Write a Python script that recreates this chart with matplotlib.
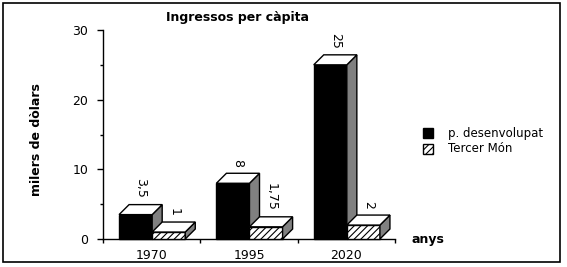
import matplotlib
matplotlib.use("Agg")
import matplotlib.pyplot as plt
from matplotlib.patches import Rectangle, Polygon

years = ['1970', '1995', '2020']
desenvolupat = [3.5, 8, 25]
tercer_mon = [1, 1.75, 2]
series_names = ['p. desenvolupat', 'Tercer Món']

W, H = 567, 267
fig = plt.figure(figsize=(W / 100, H / 100), dpi=100)

def fx(px):
    return px / W

def fy(py):
    return (H - py) / H

ax = fig.add_axes([fx(103), fy(239), fx(395) - fx(103), fy(30) - fy(239)])
ax.set_xlim(0, 3)
ax.set_ylim(0, 30)
for s in ['top', 'right']:
    ax.spines[s].set_visible(False)
ax.spines['left'].set_linewidth(1.0)
ax.spines['bottom'].set_linewidth(1.0)

ax.set_yticks([0, 10, 20, 30])
ax.set_yticks([5, 15, 25], minor=True)
ax.tick_params(axis='y', which='major', length=4.5, width=1, pad=6, labelsize=9)
ax.tick_params(axis='y', which='minor', length=2.5, width=1)
ax.set_xticks([0, 1, 2, 3])
ax.set_xticklabels([])
ax.set_xticks([0.5, 1.5, 2.5], minor=True)
ax.set_xticklabels(years, minor=True)
ax.tick_params(axis='x', which='major', length=3, width=1)
ax.tick_params(axis='x', which='minor', length=0, pad=7, labelsize=9)

bw = 0.34
off = 0.165
dx = 0.103
dy = 1.435

def bar3d(x, h, face, hatch=None):
    front = Rectangle((x, 0), bw, h, facecolor=face, edgecolor='black',
                      linewidth=1, hatch=hatch, clip_on=False, zorder=3)
    ax.add_patch(front)
    side = Polygon([(x + bw, 0), (x + bw + dx, dy), (x + bw + dx, h + dy), (x + bw, h)],
                   facecolor='#808080', edgecolor='black', linewidth=1,
                   clip_on=False, zorder=3)
    ax.add_patch(side)
    top = Polygon([(x, h), (x + dx, h + dy), (x + bw + dx, h + dy), (x + bw, h)],
                  facecolor='white', edgecolor='black', linewidth=1,
                  clip_on=False, zorder=3)
    ax.add_patch(top)
    lab = ('%g' % h).replace('.', ',')
    ax.text(x + bw / 2 + dx / 2, h + dy + 0.9, lab, rotation=270,
            ha='center', va='bottom', fontsize=9, zorder=4)

plt.rcParams['hatch.linewidth'] = 0.8
for i in range(len(years)):
    bar3d(i + off, desenvolupat[i], 'black')
    bar3d(i + off + bw, tercer_mon[i], 'white', hatch='/////')

# title, axis labels
fig.text(fx(238), fy(17), 'Ingressos per càpita', ha='center', va='center',
         fontsize=9, fontweight='bold')
fig.text(fx(36), fy(140), 'milers de dòlars', ha='center', va='center',
         rotation=90, fontsize=9, fontweight='bold')
fig.text(fx(412), fy(239), 'anys', ha='left', va='center', fontsize=9,
         fontweight='bold')

# legend
fig.add_artist(Rectangle((fx(423), fy(138)), fx(10), fy(128) - fy(138),
                         transform=fig.transFigure, facecolor='black',
                         edgecolor='black', linewidth=1))
fig.add_artist(Rectangle((fx(423), fy(154)), fx(10), fy(144) - fy(154),
                         transform=fig.transFigure, facecolor='white',
                         edgecolor='black', linewidth=1, hatch='/////'))
fig.text(fx(448), fy(133), series_names[0], ha='left', va='center', fontsize=8.5)
fig.text(fx(448), fy(149), series_names[1], ha='left', va='center', fontsize=8.5)

# outer frame
fig.add_artist(Rectangle((fx(3), fy(262)), fx(560) - fx(3), fy(3) - fy(262),
                         transform=fig.transFigure, facecolor='none',
                         edgecolor='black', linewidth=1.2))

fig.savefig('out.png', dpi=100)
